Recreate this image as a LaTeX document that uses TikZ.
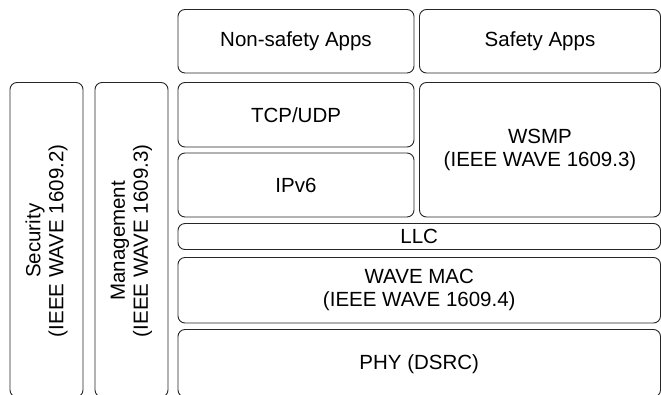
\documentclass[tikz,border=0pt]{standalone}
\usepackage{fontspec}
\setmainfont{Liberation Sans}
\begin{document}
\begin{tikzpicture}[x=1pt,y=-1pt,
  layer/.style={draw=black!85, line width=0.9pt, rounded corners=7pt,
    align=center, inner sep=0pt, outer sep=0pt,
    font=\fontsize{20.5}{23}\selectfont},
  side/.style={layer, rotate=90}]
\useasboundingbox (0,0) rectangle (661,394);
\clip (0,0) rectangle (661,394);
% boxes given by corner coordinates (x1,y1) and (x2,y2)
\newcommand{\layerbox}[6][layer]{%
  \node[#1, minimum width={#4-#2}, minimum height={#5-#3}]
    (#6) at ({(#2+#4)/2},{(#3+#5)/2}) {};}
\layerbox{178}{9.5}{414}{73}{nonsafe}
\layerbox{419.5}{9.5}{660.5}{73}{safety}
\layerbox{178}{82.5}{414}{147}{tcp}
\layerbox{419.5}{82.5}{660.5}{217}{wsmp}
\layerbox{178}{153}{414}{217}{ipv6}
\layerbox{178}{223.5}{660.5}{249.5}{llc}
\layerbox{178}{257.5}{660.5}{323}{mac}
\layerbox{178}{329.5}{660.5}{397}{phy}
\layerbox{10}{82.5}{83}{397}{sec}
\layerbox{95}{82.5}{168}{397}{mgmt}
% labels
\begin{scope}[every node/.style={align=center, inner sep=0pt,
    font=\fontsize{20.5}{23}\selectfont}]
\node at (nonsafe) {Non-safety Apps};
\node at (safety) {Safety Apps};
\node at (tcp) {TCP/UDP};
\node at (wsmp) {WSMP\\(IEEE WAVE 1609.3)};
\node at (ipv6) {IPv6};
\node at (llc) {LLC};
\node at (mac) {WAVE MAC\\(IEEE WAVE 1609.4)};
\node at ([yshift=-1]phy.center) {PHY (DSRC)};
\node[rotate=90] at ([yshift=-1]sec.center) {Security\\(IEEE WAVE 1609.2)};
\node[rotate=90] at ([yshift=-1]mgmt.center) {Management\\(IEEE WAVE 1609.3)};
\end{scope}
\end{tikzpicture}
\end{document}
